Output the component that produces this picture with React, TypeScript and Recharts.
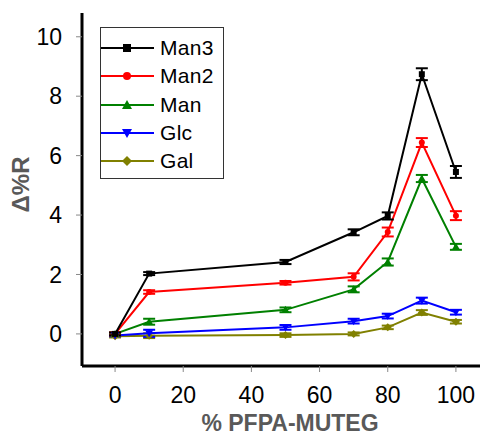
import React from 'react';
import { LineChart, Line, XAxis, YAxis, ErrorBar, Legend } from 'recharts';

const xValues = [0, 10, 50, 70, 80, 90, 100];

const man3 = [0, 2.03, 2.42, 3.42, 3.97, 8.74, 5.45];
const man3Err = [0.05, 0.05, 0.07, 0.1, 0.12, 0.2, 0.2];
const man2 = [0, 1.41, 1.72, 1.92, 3.43, 6.44, 3.98];
const man2Err = [0.05, 0.06, 0.06, 0.12, 0.15, 0.15, 0.15];
const man = [0, 0.41, 0.81, 1.5, 2.42, 5.23, 2.93];
const manErr = [0.04, 0.1, 0.08, 0.1, 0.12, 0.12, 0.1];
const glc = [-0.05, 0.02, 0.22, 0.43, 0.6, 1.12, 0.73];
const glcErr = [0.03, 0.12, 0.08, 0.08, 0.08, 0.1, 0.08];
const gal = [-0.08, -0.06, -0.04, 0, 0.22, 0.72, 0.41];
const galErr = [0.04, 0.08, 0.06, 0.05, 0.06, 0.08, 0.06];

const xTicks = [0, 20, 40, 60, 80, 100];
const yTicks = [0, 2, 4, 6, 8, 10];

type Shape = 'square' | 'circle' | 'up' | 'down' | 'diamond';

const series: { key: string; name: string; color: string; shape: Shape; values: number[]; errs: number[] }[] = [
  { key: 'man3', name: 'Man3', color: '#000000', shape: 'square', values: man3, errs: man3Err },
  { key: 'man2', name: 'Man2', color: '#ff0000', shape: 'circle', values: man2, errs: man2Err },
  { key: 'man', name: 'Man', color: '#008000', shape: 'up', values: man, errs: manErr },
  { key: 'glc', name: 'Glc', color: '#0000ff', shape: 'down', values: glc, errs: glcErr },
  { key: 'gal', name: 'Gal', color: '#808000', shape: 'diamond', values: gal, errs: galErr },
];

const data = xValues.map((x, i) => {
  const row: Record<string, number> = { x };
  series.forEach((s) => {
    row[s.key] = s.values[i];
    row[s.key + 'Err'] = s.errs[i];
  });
  return row;
});

function marker(shape: Shape, cx: number, cy: number, color: string, r = 4) {
  switch (shape) {
    case 'square':
      return <rect x={cx - r} y={cy - r} width={r * 2} height={r * 2} fill={color} />;
    case 'circle':
      return <circle cx={cx} cy={cy} r={r} fill={color} />;
    case 'up':
      return <polygon points={`${cx},${cy - r - 1} ${cx + r + 1},${cy + r} ${cx - r - 1},${cy + r}`} fill={color} />;
    case 'down':
      return <polygon points={`${cx},${cy + r + 1} ${cx + r + 1},${cy - r} ${cx - r - 1},${cy - r}`} fill={color} />;
    default:
      return <polygon points={`${cx},${cy - r - 1} ${cx + r + 1},${cy} ${cx},${cy + r + 1} ${cx - r - 1},${cy}`} fill={color} />;
  }
}

const makeDot = (shape: Shape, color: string) => (props: any) => {
  const { cx, cy, index } = props;
  if (cx == null || cy == null) return <g key={`d-${index}`} />;
  return <g key={`d-${shape}-${index}`}>{marker(shape, cx, cy, color, 3)}</g>;
};

const renderLegend = () => (
  <div
    style={{
      border: '1px solid #333',
      background: '#fff',
      width: 124,
      height: 152,
      boxSizing: 'border-box',
      paddingTop: 6,
    }}
  >
    {series.map((s) => (
      <div key={s.key} style={{ display: 'flex', alignItems: 'center', height: 28.3 }}>
        <svg width={58} height={20} style={{ flex: 'none' }}>
          <line x1={0} y1={10} x2={53} y2={10} stroke={s.color} strokeWidth={2} />
          {marker(s.shape, 26, 10, s.color, 4)}
        </svg>
        <span
          style={{
            fontFamily: '"Liberation Sans", Arial, sans-serif',
            fontSize: 21,
            color: '#000',
            marginLeft: 1,
            letterSpacing: 0.3,
          }}
        >
          {s.name}
        </span>
      </div>
    ))}
  </div>
);

const tickStyle = { fontFamily: '"Liberation Sans", Arial, sans-serif', fontSize: 23, fill: '#000' };

export default function App() {
  return (
    <div style={{ position: 'fixed', top: 0, left: 0, width: 480, height: 437, overflow: 'hidden', background: '#fff' }}>
      <LineChart
        width={500}
        height={437}
        data={data}
        margin={{ top: 13, right: 10, bottom: 0, left: 0 }}
      >
        <XAxis
          dataKey="x"
          type="number"
          domain={[-9.7, 110]}
          ticks={xTicks}
          allowDataOverflow
          height={71}
          tickSize={6}
          tickMargin={15}
          tick={tickStyle}
          axisLine={{ stroke: '#000', strokeWidth: 3 }}
          tickLine={{ stroke: '#888', strokeWidth: 1 }}
          label={{
            value: '% PFPA-MUTEG',
            position: 'insideBottom',
            offset: 6,
            dx: 4,
            style: { fontFamily: '"Liberation Sans", Arial, sans-serif', fontSize: 23, fontWeight: 'bold', fill: '#595959' },
          }}
        />
        <XAxis
          xAxisId="top"
          orientation="top"
          dataKey="x"
          type="number"
          domain={[-9.7, 110]}
          height={0}
          tick={false}
          tickLine={false}
          axisLine={{ stroke: '#000', strokeWidth: 3 }}
        />
        <YAxis
          type="number"
          domain={[-1.08, 10.8]}
          ticks={yTicks}
          allowDataOverflow
          width={82}
          tickSize={6}
          tickMargin={14}
          tick={tickStyle}
          axisLine={{ stroke: '#000', strokeWidth: 3 }}
          tickLine={{ stroke: '#888', strokeWidth: 1 }}
          label={{
            value: 'Δ%R',
            angle: -90,
            position: 'insideLeft',
            offset: 20,
            dy: -5,
            style: { fontFamily: '"Liberation Sans", Arial, sans-serif', fontSize: 24, fontWeight: 'bold', fill: '#595959', textAnchor: 'middle' },
          }}
        />
        <Legend
          layout="vertical"
          align="center"
          verticalAlign="middle"
          content={renderLegend}
          wrapperStyle={{ top: 27, left: 100, width: 124, height: 152 }}
        />
        {series
          .slice()
          .reverse()
          .map((s) => (
            <Line
              key={s.key}
              dataKey={s.key}
              name={s.name}
              stroke={s.color}
              strokeWidth={2}
              dot={makeDot(s.shape, s.color)}
              activeDot={false}
              isAnimationActive={false}
            >
              <ErrorBar dataKey={s.key + 'Err'} direction="y" width={6} stroke={s.color} strokeWidth={2} />
            </Line>
          ))}
      </LineChart>
    </div>
  );
}
